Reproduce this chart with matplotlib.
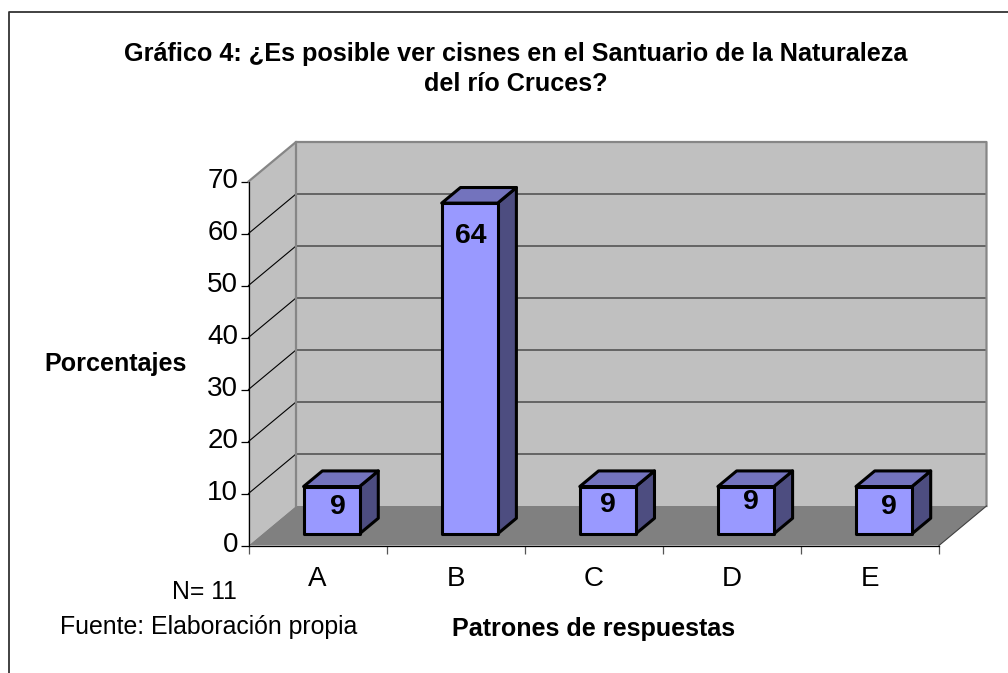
import matplotlib
matplotlib.use('Agg')
import matplotlib.pyplot as plt
from matplotlib.patches import Polygon
from matplotlib.lines import Line2D
from matplotlib.transforms import ScaledTranslation

plt.rcParams['font.family'] = ['Liberation Sans', 'DejaVu Sans']

categories = ['A', 'B', 'C', 'D', 'E']
percentages = [9.1, 63.6, 9.1, 9.1, 9.1]  # printed rounded, 1/11 and 7/11 of N
y_ticks = [0, 10, 20, 30, 40, 50, 60, 70]

title = 'Gráfico 4: ¿Es posible ver cisnes en el Santuario de la Naturaleza\ndel río Cruces?'
y_label = 'Porcentajes'
x_label = 'Patrones de respuestas'
note_n = 'N= 11'
note_source = 'Fuente: Elaboración propia'

W, H = 1008, 673

# fake 3D look: depth 0 is the front plane, depth 1 the back wall
DEPTH_X = 47.5 / 138.1   # in category units
DEPTH_Y = 39.5 / 5.2     # in percent units
BAR_WIDTH = 0.405
BAR_D0 = 0.295
BAR_D1 = 0.69

# pixel nudges of the value labels, from the bar top and bar centre
label_dx = [6, 1, 0, 5, 5]
label_dy = [-20, -33, -18, -15, -20]

FRONT = '#9999ff'
TOP = '#7373bd'
SIDE = '#4d4d80'
WALL = '#c0c0c0'
FLOOR = '#808080'


def px_x(x):
    return x / W


def px_y(y):
    return 1 - y / H


def p3(x, y, d):
    return (x + d * DEPTH_X, y + d * DEPTH_Y)


fig = plt.figure(figsize=(W / 100, H / 100), dpi=100)
ax = fig.add_axes([px_x(248.5), px_y(545.5), 690.5 / W, 364 / H])
ax.set_xlim(0, len(categories))
ax.set_ylim(0, 70)
ax.patch.set_visible(False)
n = len(categories)
top = y_ticks[-1]


def poly(points, face, edge='none', lw=0, z=1):
    ax.add_patch(Polygon(points, closed=True, facecolor=face, edgecolor=edge,
                         linewidth=lw, zorder=z, clip_on=False, joinstyle='round'))


# walls and floor
poly([p3(0, 0, 1), p3(n, 0, 1), p3(n, top, 1), p3(0, top, 1)], WALL)
poly([p3(0, 0, 0), p3(0, 0, 1), p3(0, top, 1), p3(0, top, 0)], WALL)
poly([p3(0, 0, 0), p3(n, 0, 0), p3(n, 0, 1), p3(0, 0, 1)], FLOOR)

# gridlines, on the side wall and along the back wall
for t in y_ticks[1:-1]:
    ax.plot(*zip(p3(0, t, 0), p3(0, t, 1)), color='black', lw=0.8, zorder=2, clip_on=False)
    ax.plot(*zip(p3(0, t, 1), p3(n, t, 1)), color='#555555', lw=1.2, zorder=2, clip_on=False)

# wall outline
edge_pts = [p3(0, top, 0), p3(0, top, 1), p3(n, top, 1), p3(n, 0, 1)]
ax.plot(*zip(*edge_pts), color='#868686', lw=1.6, zorder=2, clip_on=False)
ax.plot(*zip(p3(0, 0, 1), p3(0, top, 1)), color='#868686', lw=1.6, zorder=2, clip_on=False)
ax.plot(*zip(p3(n, 0, 0), p3(n, 0, 1)), color='#404040', lw=0.8, zorder=2, clip_on=False)

# bars
for i, v in enumerate(percentages):
    x0 = i + 0.5 - BAR_WIDTH / 2
    x1 = i + 0.5 + BAR_WIDTH / 2
    poly([p3(x1, 0, BAR_D0), p3(x1, 0, BAR_D1), p3(x1, v, BAR_D1), p3(x1, v, BAR_D0)],
         SIDE, 'black', 2.2, 3)
    poly([p3(x0, v, BAR_D0), p3(x1, v, BAR_D0), p3(x1, v, BAR_D1), p3(x0, v, BAR_D1)],
         TOP, 'black', 2.2, 3)
    poly([p3(x0, 0, BAR_D0), p3(x1, 0, BAR_D0), p3(x1, v, BAR_D0), p3(x0, v, BAR_D0)],
         FRONT, 'black', 2.2, 3)
    ax.annotate('%.0f' % v, xy=p3(i + 0.5, v, BAR_D0),
                xytext=(label_dx[i] * 0.72, label_dy[i] * 0.72), textcoords='offset points',
                ha='center', va='center', fontsize=20.5, fontweight='bold', zorder=4,
                annotation_clip=False)

# axes, ticks
for side in ['top', 'right']:
    ax.spines[side].set_visible(False)
for side in ['left', 'bottom']:
    ax.spines[side].set_linewidth(0.9)
    ax.spines[side].set_zorder(2.5)
ax.set_yticks(y_ticks)
ax.set_yticklabels([str(t) for t in y_ticks])
ax.set_xticks(range(n + 1))
ax.set_xticklabels([])
ax.set_xticks([i + 0.5 for i in range(n)], minor=True)
ax.set_xticklabels(categories, minor=True)
ax.tick_params(axis='y', length=6, width=0.9, labelsize=20, pad=1.5)
ax.tick_params(axis='x', which='major', length=6, width=0.9, color='#555555')
ax.tick_params(axis='x', which='minor', length=0, labelsize=20, pad=15)

# y tick labels sit a little above their ticks
up = ScaledTranslation(0, 2.5 / 72, fig.dpi_scale_trans)
for lab in ax.get_yticklabels():
    lab.set_transform(lab.get_transform() + up)

# texts
fig.text(px_x(516), px_y(69), title, ha='center', va='center', fontsize=18.2,
         fontweight='bold', linespacing=1.32)
fig.text(px_x(116), px_y(364), y_label, ha='center', va='center', fontsize=18.1, fontweight='bold')
fig.text(px_x(594), px_y(629), x_label, ha='center', va='center', fontsize=18.1, fontweight='bold')
fig.text(px_x(204), px_y(592), note_n, ha='center', va='center', fontsize=17.8)
fig.text(px_x(208.5), px_y(627), note_source, ha='center', va='center', fontsize=17.9)

# chart border, only left and top are inside the picture
fig.add_artist(Line2D([px_x(8.5), px_x(8.5), 1], [0, px_y(12), px_y(12)],
                      color='#333333', lw=1.3, transform=fig.transFigure))

fig.savefig('out.png', dpi=100)
